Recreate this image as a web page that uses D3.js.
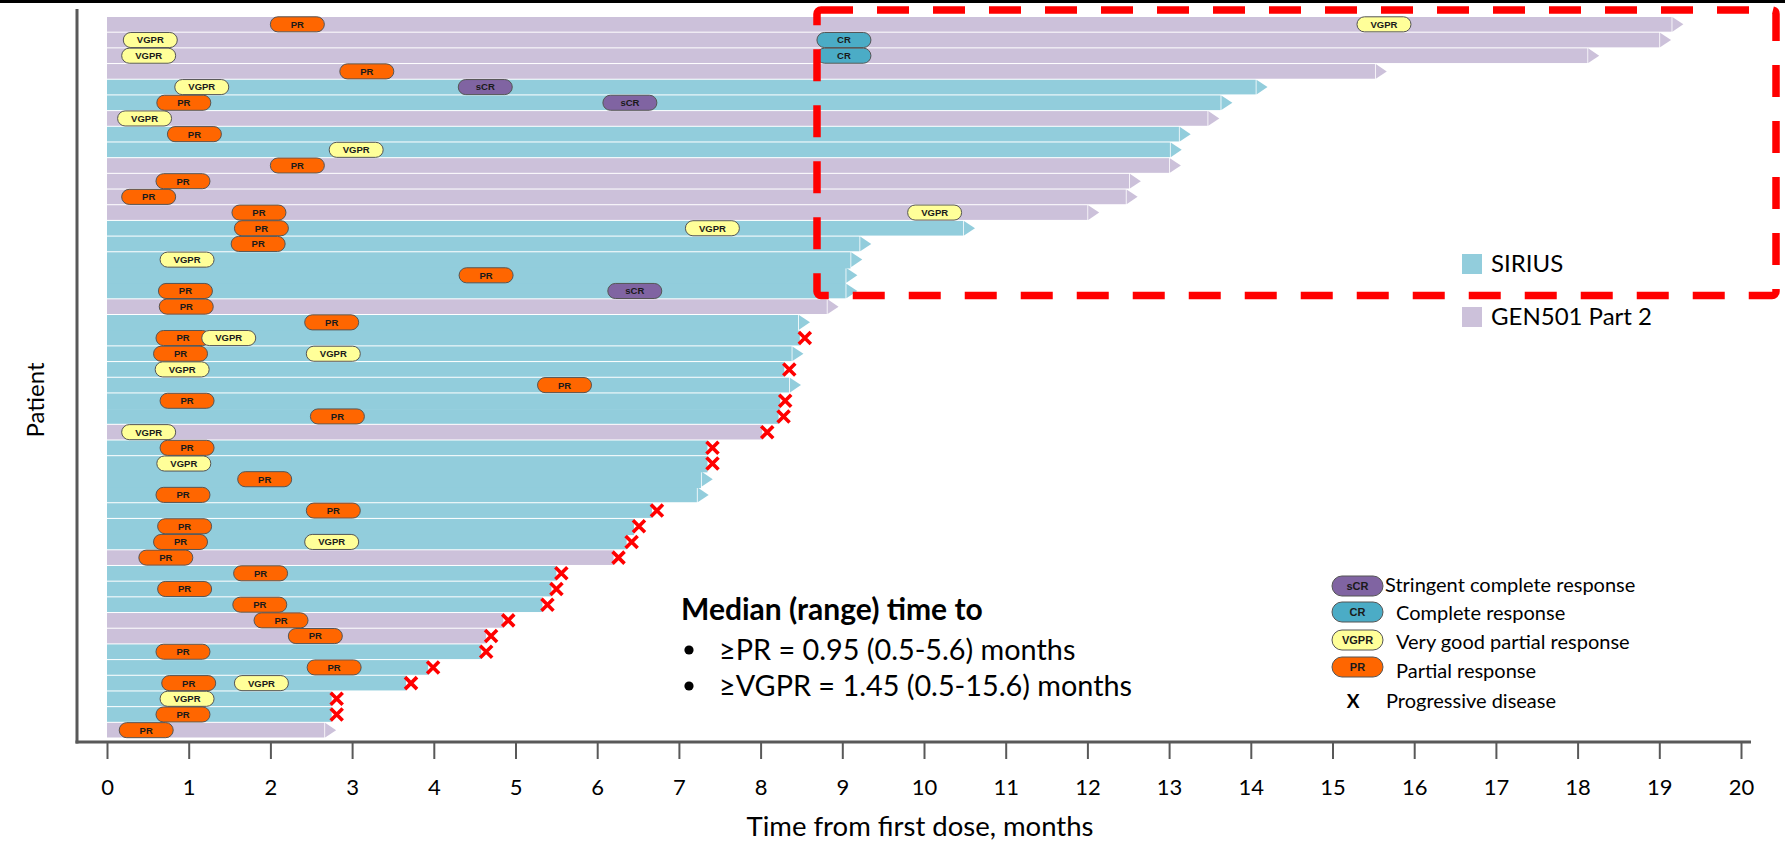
<!DOCTYPE html>
<html>
<head>
<meta charset="utf-8">
<script src="https://cdn.jsdelivr.net/npm/d3@7.9.0/dist/d3.min.js"></script>
<style>
  html, body { margin: 0; padding: 0; background: #fff; }
  svg { display: block; font-family: Lato, "Open Sans", sans-serif; }
</style>
</head>
<body>
<svg id="chart" width="1785" height="844"></svg>
<script>
// one entry per patient, top row first. S = SIRIUS, G = GEN501 Part 2
const cohort = ["G","G","G","G","S","S","G","S","S","G",
                "G","G","G","S","S","S","S","S","G","S",
                "S","S","S","S","S","S","G","S","S","S",
                "S","S","S","S","G","S","S","S","G","G",
                "S","S","S","S","S","G"];
// months of follow-up (end of the bar)
const followUp = [19.15, 19.0, 18.12, 15.52, 14.06, 13.63, 13.47, 13.12, 13.01, 13.0,
                  12.51, 12.47, 12.0, 10.48, 9.21, 9.10, 9.04, 9.04, 8.81, 8.46,
                  8.48, 8.38, 8.29, 8.35, 8.24, 8.22, 8.02, 7.35, 7.35, 7.27,
                  7.22, 6.67, 6.45, 6.36, 6.20, 5.50, 5.44, 5.33, 4.85, 4.64,
                  4.58, 3.93, 3.66, 2.75, 2.75, 2.66];
// rows (1-based) that ended with progressive disease, the others are ongoing
const pdRows = [21, 23, 25, 26, 27, 28, 29, 32, 33, 34, 35, 36, 37, 38, 39, 40, 41, 42, 43, 44, 45];
// rows drawn touching the row below (no white separator in the original)
const noGapBelow = [16, 17, 20, 25, 29, 30, 33];
// [row, response, month]
const responses = [
  [1,"PR",2.33],[1,"VGPR",15.63],
  [2,"VGPR",0.53],[2,"CR",9.02],
  [3,"VGPR",0.51],[3,"CR",9.02],
  [4,"PR",3.18],
  [5,"VGPR",1.16],[5,"sCR",4.63],
  [6,"PR",0.94],[6,"sCR",6.40],
  [7,"VGPR",0.46],
  [8,"PR",1.07],
  [9,"VGPR",3.05],
  [10,"PR",2.33],
  [11,"PR",0.93],
  [12,"PR",0.51],
  [13,"PR",1.86],[13,"VGPR",10.13],
  [14,"PR",1.89],[14,"VGPR",7.41],
  [15,"PR",1.85],
  [16,"VGPR",0.98],
  [17,"PR",4.64],
  [18,"PR",0.96],[18,"sCR",6.46],
  [19,"PR",0.97],
  [20,"PR",2.75],
  [21,"PR",0.93],[21,"VGPR",1.49],
  [22,"PR",0.90],[22,"VGPR",2.77],
  [23,"VGPR",0.92],
  [24,"PR",5.60],
  [25,"PR",0.98],
  [26,"PR",2.82],
  [27,"VGPR",0.51],
  [28,"PR",0.98],
  [29,"VGPR",0.94],
  [30,"PR",1.93],
  [31,"PR",0.93],
  [32,"PR",2.77],
  [33,"PR",0.95],
  [34,"PR",0.90],[34,"VGPR",2.75],
  [35,"PR",0.72],
  [36,"PR",1.88],
  [37,"PR",0.95],
  [38,"PR",1.87],
  [39,"PR",2.13],
  [40,"PR",2.55],
  [41,"PR",0.93],
  [42,"PR",2.78],
  [43,"PR",1.00],[43,"VGPR",1.89],
  [44,"VGPR",0.98],
  [45,"PR",0.93],
  [46,"PR",0.48]
];
const cohortNames = ["SIRIUS", "GEN501 Part 2"];
const responseKeys = ["sCR", "CR", "VGPR", "PR"];
const responseLabels = ["Stringent complete response", "Complete response", "Very good partial response", "Partial response"];
const xTicks = d3.range(0, 21);
const medianLines = ["\u2265PR = 0.95 (0.5-5.6) months", "\u2265VGPR = 1.45 (0.5-15.6) months"];

const cohortColor = { S: "#92CDDC", G: "#CCC1DA" };
const respColor = { sCR: "#8064A2", CR: "#4BACC6", VGPR: "#FFFF99", PR: "#FF6600" };

const svg = d3.select("#chart");
const nRows = cohort.length;

const x = d3.scaleLinear().domain([0, 20]).range([107, 1741]);
const y = d3.scaleBand()
  .domain(d3.range(1, nRows + 1))
  .range([17, 737.5])
  .paddingInner(0.065)
  .paddingOuter(0);

// top border line
svg.append("rect").attr("x", 0).attr("y", 0).attr("width", 1785).attr("height", 3).attr("fill", "#000");

const rows = cohort.map((c, i) => ({
  row: i + 1,
  cohort: c,
  end: followUp[i],
  pd: pdRows.includes(i + 1),
  joined: noGapBelow.includes(i + 1)
}));

const g = svg.append("g");

// bars
g.selectAll(".bar")
  .data(rows)
  .enter()
  .append("rect")
  .attr("class", "bar")
  .attr("x", x(0))
  .attr("y", d => y(d.row))
  .attr("width", d => x(d.end) - x(0))
  .attr("height", d => d.joined ? y.step() + 0.5 : y.bandwidth())
  .attr("fill", d => cohortColor[d.cohort]);

// arrow heads for ongoing patients
g.selectAll(".arrow")
  .data(rows.filter(d => !d.pd))
  .enter()
  .append("path")
  .attr("class", "arrow")
  .attr("d", d => {
    const x0 = x(d.end) + 0.8, y0 = y(d.row), h = y.bandwidth();
    return `M${x0},${y0}L${x0 + 11},${y0 + h / 2}L${x0},${y0 + h}Z`;
  })
  .attr("fill", d => cohortColor[d.cohort]);

// response pills
const pillW = 54, pillH = y.bandwidth() + 0.4;
const pills = g.selectAll(".pill")
  .data(responses.map(([row, type, t]) => ({ row, type, t })))
  .enter()
  .append("g")
  .attr("class", "pill")
  .attr("transform", d => `translate(${x(d.t)},${y(d.row) + y.bandwidth() / 2})`);

pills.append("rect")
  .attr("x", -pillW / 2)
  .attr("y", -pillH / 2)
  .attr("width", pillW)
  .attr("height", pillH)
  .attr("rx", pillH / 2)
  .attr("fill", d => respColor[d.type])
  .attr("stroke", "#555")
  .attr("stroke-width", 1);

pills.append("text")
  .attr("text-anchor", "middle")
  .attr("dy", "0.36em")
  .style("font-family", "'Liberation Sans', Arial, sans-serif")
  .style("font-size", "9.5px")
  .style("font-weight", "bold")
  .attr("fill", "#1a1a1a")
  .text(d => d.type);

// progressive disease crosses
const cross = 6;
g.selectAll(".pd")
  .data(rows.filter(d => d.pd))
  .enter()
  .append("path")
  .attr("class", "pd")
  .attr("d", d => {
    const cx = x(d.end) + 5, cy = y(d.row) + y.bandwidth() / 2;
    return `M${cx - cross},${cy - cross}L${cx + cross},${cy + cross}M${cx - cross},${cy + cross}L${cx + cross},${cy - cross}`;
  })
  .attr("stroke", "#FF0000")
  .attr("stroke-width", 3.6)
  .attr("fill", "none");

// axes
const axisColor = "#595959";
svg.append("line")
  .attr("x1", 77).attr("x2", 77).attr("y1", 9).attr("y2", 743.5)
  .attr("stroke", axisColor).attr("stroke-width", 3);
svg.append("line")
  .attr("x1", 75.5).attr("x2", 1751).attr("y1", 742).attr("y2", 742)
  .attr("stroke", axisColor).attr("stroke-width", 3);

const xAxis = svg.append("g")
  .attr("transform", "translate(0,742)")
  .call(d3.axisBottom(x).tickValues(xTicks).tickSize(17).tickSizeOuter(0).tickPadding(20));
xAxis.select(".domain").remove();
xAxis.selectAll(".tick line").attr("stroke", axisColor).attr("stroke-width", 2);
xAxis.selectAll(".tick text")
  .style("font-family", "Lato, sans-serif")
  .style("font-size", "22px")
  .attr("fill", "#000");

svg.append("text")
  .attr("x", 920)
  .attr("y", 836)
  .attr("text-anchor", "middle")
  .style("font-size", "27.5px")
  .attr("fill", "#000")
  .text("Time from first dose, months");

svg.append("text")
  .attr("transform", "translate(44,400) rotate(-90)")
  .attr("text-anchor", "middle")
  .style("font-size", "24px")
  .attr("fill", "#000")
  .text("Patient");

// red dashed highlight box
svg.append("rect")
  .attr("x", 817).attr("y", 10)
  .attr("width", 1776 - 817).attr("height", 295.5 - 10)
  .attr("rx", 4)
  .attr("fill", "none")
  .attr("stroke", "#FF0000")
  .attr("stroke-width", 7.5)
  .attr("stroke-dasharray", "32,24");

// cohort legend
const cohortLegend = svg.append("g");
cohortNames.forEach((name, i) => {
  const key = i === 0 ? "S" : "G";
  const cy = 264 + i * 53;
  cohortLegend.append("rect")
    .attr("x", 1462).attr("y", cy - 10).attr("width", 20).attr("height", 20)
    .attr("fill", cohortColor[key]);
  cohortLegend.append("text")
    .attr("x", 1491).attr("y", cy).attr("dy", "0.35em")
    .style("font-size", "24px")
    .attr("fill", "#000")
    .text(name);
});

// response legend
const respLegend = svg.append("g");
const pillRowsY = [586, 612, 640, 667];
const labelRowsY = [585, 613, 642, 671];
responseKeys.forEach((k, i) => {
  const cy = pillRowsY[i];
  respLegend.append("rect")
    .attr("x", 1332).attr("y", cy - 10).attr("width", 51).attr("height", 20).attr("rx", 10)
    .attr("fill", respColor[k]).attr("stroke", "#555").attr("stroke-width", 1);
  respLegend.append("text")
    .attr("x", 1357.5).attr("y", cy).attr("dy", "0.36em").attr("text-anchor", "middle")
    .style("font-family", "'Liberation Sans', Arial, sans-serif")
    .style("font-size", "11px").style("font-weight", "bold")
    .attr("fill", "#1a1a1a")
    .text(k);
  respLegend.append("text")
    .attr("x", i === 0 ? 1385 : 1396).attr("y", labelRowsY[i]).attr("dy", "0.35em")
    .style("font-size", "20px")
    .attr("fill", "#000")
    .text(responseLabels[i]);
});
respLegend.append("text")
  .attr("x", 1353).attr("y", 701).attr("dy", "0.35em").attr("text-anchor", "middle")
  .style("font-size", "19px").style("font-weight", "bold")
  .text("X");
respLegend.append("text")
  .attr("x", 1386).attr("y", 701).attr("dy", "0.35em")
  .style("font-size", "20px")
  .text("Progressive disease");

// median annotation
const note = svg.append("g");
note.append("text")
  .attr("x", 681).attr("y", 620)
  .style("font-size", "30px").style("font-weight", "bold")
  .text("Median (range) time to");
medianLines.forEach((t, i) => {
  const by = 660 + i * 36;
  note.append("circle").attr("cx", 689).attr("cy", by - 10).attr("r", 4.6).attr("fill", "#000");
  note.append("text")
    .attr("x", 719).attr("y", by)
    .style("font-size", "28.8px")
    .text(t);
});
</script>
</body>
</html>
